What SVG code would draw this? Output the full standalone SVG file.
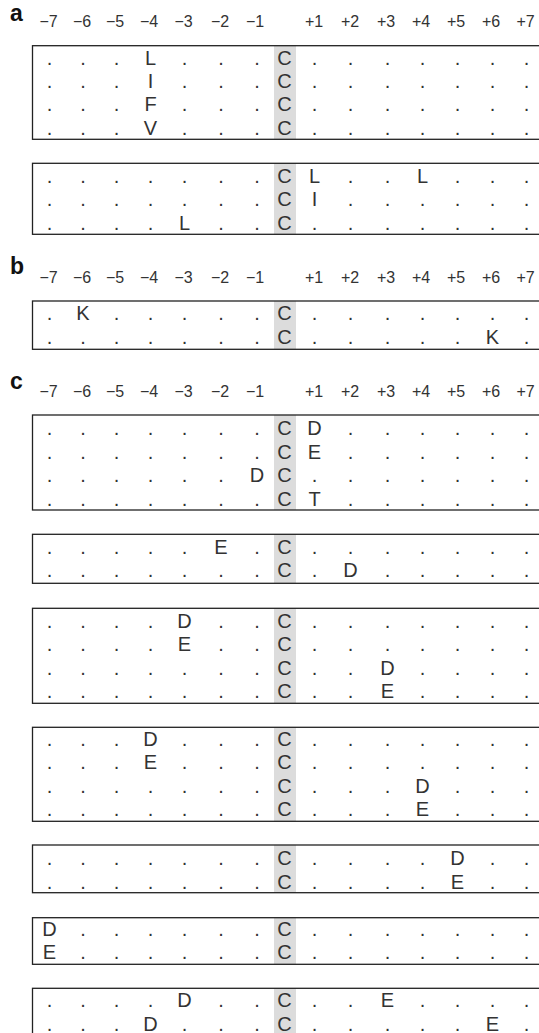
<svg xmlns="http://www.w3.org/2000/svg" width="539" height="1033" viewBox="0 0 539 1033">
<style>
text{font-family:"Liberation Sans",Arial,sans-serif;fill:#333}
.r{font-size:20px;text-anchor:middle}
.h{font-size:16px;text-anchor:middle}
.p{font-size:23px;font-weight:bold;fill:#111}
.box{fill:none;stroke:#222;stroke-width:1.3}
.g{fill:#dcdcdc}
</style>
<rect width="539" height="1033" fill="#fff"/>
<g id="labels">
<text class="p" x="10" y="21">a</text>
<text class="p" x="10" y="274">b</text>
<text class="p" x="10" y="388.5">c</text>
</g>
<g id="header-a">
<text class="h" x="48.5" y="27">−7</text><text class="h" x="82" y="27">−6</text><text class="h" x="115" y="27">−5</text><text class="h" x="149" y="27">−4</text><text class="h" x="183.5" y="27">−3</text><text class="h" x="220" y="27">−2</text><text class="h" x="255" y="27">−1</text>
<text class="h" x="314" y="27">+1</text><text class="h" x="350" y="27">+2</text><text class="h" x="386" y="27">+3</text><text class="h" x="421" y="27">+4</text><text class="h" x="456" y="27">+5</text><text class="h" x="491" y="27">+6</text><text class="h" x="525.5" y="27">+7</text>
</g>
<g id="header-b">
<text class="h" x="48.5" y="283">−7</text><text class="h" x="82" y="283">−6</text><text class="h" x="115" y="283">−5</text><text class="h" x="149" y="283">−4</text><text class="h" x="183.5" y="283">−3</text><text class="h" x="220" y="283">−2</text><text class="h" x="255" y="283">−1</text>
<text class="h" x="314" y="283">+1</text><text class="h" x="350" y="283">+2</text><text class="h" x="386" y="283">+3</text><text class="h" x="421" y="283">+4</text><text class="h" x="456" y="283">+5</text><text class="h" x="491" y="283">+6</text><text class="h" x="525.5" y="283">+7</text>
</g>
<g id="header-c">
<text class="h" x="48.5" y="397">−7</text><text class="h" x="82" y="397">−6</text><text class="h" x="115" y="397">−5</text><text class="h" x="149" y="397">−4</text><text class="h" x="183.5" y="397">−3</text><text class="h" x="220" y="397">−2</text><text class="h" x="255" y="397">−1</text>
<text class="h" x="314" y="397">+1</text><text class="h" x="350" y="397">+2</text><text class="h" x="386" y="397">+3</text><text class="h" x="421" y="397">+4</text><text class="h" x="456" y="397">+5</text><text class="h" x="491" y="397">+6</text><text class="h" x="525.5" y="397">+7</text>
</g>
<g id="a1">
<rect class="g" x="274" y="45.7" width="22" height="93.6"/>
<rect class="box" x="32.5" y="45.7" width="520" height="93.6"/>
<text class="r" x="49.5 83 116.5 150.5 184.5 221 257 284.5 314.5 350.5 387.5 422.5 457.5 492.5 526.5" y="64.5">...L...C.......</text>
<text class="r" x="49.5 83 116.5 150.5 184.5 221 257 284.5 314.5 350.5 387.5 422.5 457.5 492.5 526.5" y="87.9">...I...C.......</text>
<text class="r" x="49.5 83 116.5 150.5 184.5 221 257 284.5 314.5 350.5 387.5 422.5 457.5 492.5 526.5" y="111.3">...F...C.......</text>
<text class="r" x="49.5 83 116.5 150.5 184.5 221 257 284.5 314.5 350.5 387.5 422.5 457.5 492.5 526.5" y="134.7">...V...C.......</text>
</g>
<g id="a2">
<rect class="g" x="274" y="163.3" width="22" height="71"/>
<rect class="box" x="32.5" y="163.3" width="520" height="71"/>
<text class="r" x="49.5 83 116.5 150.5 184.5 221 257 284.5 314.5 350.5 387.5 422.5 457.5 492.5 526.5" y="182.7">.......CL..L...</text>
<text class="r" x="49.5 83 116.5 150.5 184.5 221 257 284.5 314.5 350.5 387.5 422.5 457.5 492.5 526.5" y="206.1">.......CI......</text>
<text class="r" x="49.5 83 116.5 150.5 184.5 221 257 284.5 314.5 350.5 387.5 422.5 457.5 492.5 526.5" y="229.5">....L..C.......</text>
</g>
<g id="b1">
<rect class="g" x="274" y="301" width="22" height="48.3"/>
<rect class="box" x="32.5" y="301" width="520" height="48.3"/>
<text class="r" x="49.5 83 116.5 150.5 184.5 221 257 284.5 314.5 350.5 387.5 422.5 457.5 492.5 526.5" y="320.3">.K.....C.......</text>
<text class="r" x="49.5 83 116.5 150.5 184.5 221 257 284.5 314.5 350.5 387.5 422.5 457.5 492.5 526.5" y="343.7">.......C.....K.</text>
</g>
<g id="c1">
<rect class="g" x="274" y="415" width="22" height="95"/>
<rect class="box" x="32.5" y="415" width="520" height="95"/>
<text class="r" x="49.5 83 116.5 150.5 184.5 221 257 284.5 314.5 350.5 387.5 422.5 457.5 492.5 526.5" y="435.3">.......CD......</text>
<text class="r" x="49.5 83 116.5 150.5 184.5 221 257 284.5 314.5 350.5 387.5 422.5 457.5 492.5 526.5" y="458.7">.......CE......</text>
<text class="r" x="49.5 83 116.5 150.5 184.5 221 257 284.5 314.5 350.5 387.5 422.5 457.5 492.5 526.5" y="482.1">......DC.......</text>
<text class="r" x="49.5 83 116.5 150.5 184.5 221 257 284.5 314.5 350.5 387.5 422.5 457.5 492.5 526.5" y="505.5">.......CT......</text>
</g>
<g id="c2">
<rect class="g" x="274" y="534.3" width="22" height="49"/>
<rect class="box" x="32.5" y="534.3" width="520" height="49"/>
<text class="r" x="49.5 83 116.5 150.5 184.5 221 257 284.5 314.5 350.5 387.5 422.5 457.5 492.5 526.5" y="553.7">.....E.C.......</text>
<text class="r" x="49.5 83 116.5 150.5 184.5 221 257 284.5 314.5 350.5 387.5 422.5 457.5 492.5 526.5" y="577.1">.......C.D.....</text>
</g>
<g id="c3">
<rect class="g" x="274" y="608.3" width="22" height="95"/>
<rect class="box" x="32.5" y="608.3" width="520" height="95"/>
<text class="r" x="49.5 83 116.5 150.5 184.5 221 257 284.5 314.5 350.5 387.5 422.5 457.5 492.5 526.5" y="628">....D..C.......</text>
<text class="r" x="49.5 83 116.5 150.5 184.5 221 257 284.5 314.5 350.5 387.5 422.5 457.5 492.5 526.5" y="651.4">....E..C.......</text>
<text class="r" x="49.5 83 116.5 150.5 184.5 221 257 284.5 314.5 350.5 387.5 422.5 457.5 492.5 526.5" y="674.8">.......C..D....</text>
<text class="r" x="49.5 83 116.5 150.5 184.5 221 257 284.5 314.5 350.5 387.5 422.5 457.5 492.5 526.5" y="698.2">.......C..E....</text>
</g>
<g id="c4">
<rect class="g" x="274" y="727.3" width="22" height="94"/>
<rect class="box" x="32.5" y="727.3" width="520" height="94"/>
<text class="r" x="49.5 83 116.5 150.5 184.5 221 257 284.5 314.5 350.5 387.5 422.5 457.5 492.5 526.5" y="746">...D...C.......</text>
<text class="r" x="49.5 83 116.5 150.5 184.5 221 257 284.5 314.5 350.5 387.5 422.5 457.5 492.5 526.5" y="769.4">...E...C.......</text>
<text class="r" x="49.5 83 116.5 150.5 184.5 221 257 284.5 314.5 350.5 387.5 422.5 457.5 492.5 526.5" y="792.8">.......C...D...</text>
<text class="r" x="49.5 83 116.5 150.5 184.5 221 257 284.5 314.5 350.5 387.5 422.5 457.5 492.5 526.5" y="816.2">.......C...E...</text>
</g>
<g id="c5">
<rect class="g" x="274" y="845" width="22" height="47.7"/>
<rect class="box" x="32.5" y="845" width="520" height="47.7"/>
<text class="r" x="49.5 83 116.5 150.5 184.5 221 257 284.5 314.5 350.5 387.5 422.5 457.5 492.5 526.5" y="865.3">.......C....D..</text>
<text class="r" x="49.5 83 116.5 150.5 184.5 221 257 284.5 314.5 350.5 387.5 422.5 457.5 492.5 526.5" y="888.7">.......C....E..</text>
</g>
<g id="c6">
<rect class="g" x="274" y="917.7" width="22" height="46.6"/>
<rect class="box" x="32.5" y="917.7" width="520" height="46.6"/>
<text class="r" x="49.5 83 116.5 150.5 184.5 221 257 284.5 314.5 350.5 387.5 422.5 457.5 492.5 526.5" y="935.5">D......C.......</text>
<text class="r" x="49.5 83 116.5 150.5 184.5 221 257 284.5 314.5 350.5 387.5 422.5 457.5 492.5 526.5" y="959">E......C.......</text>
</g>
<g id="c7">
<rect class="g" x="274" y="988.3" width="22" height="48"/>
<rect class="box" x="32.5" y="988.3" width="520" height="48"/>
<text class="r" x="49.5 83 116.5 150.5 184.5 221 257 284.5 314.5 350.5 387.5 422.5 457.5 492.5 526.5" y="1007.3">....D..C..E....</text>
<text class="r" x="49.5 83 116.5 150.5 184.5 221 257 284.5 314.5 350.5 387.5 422.5 457.5 492.5 526.5" y="1030.7">...D...C.....E.</text>
</g>
</svg>
